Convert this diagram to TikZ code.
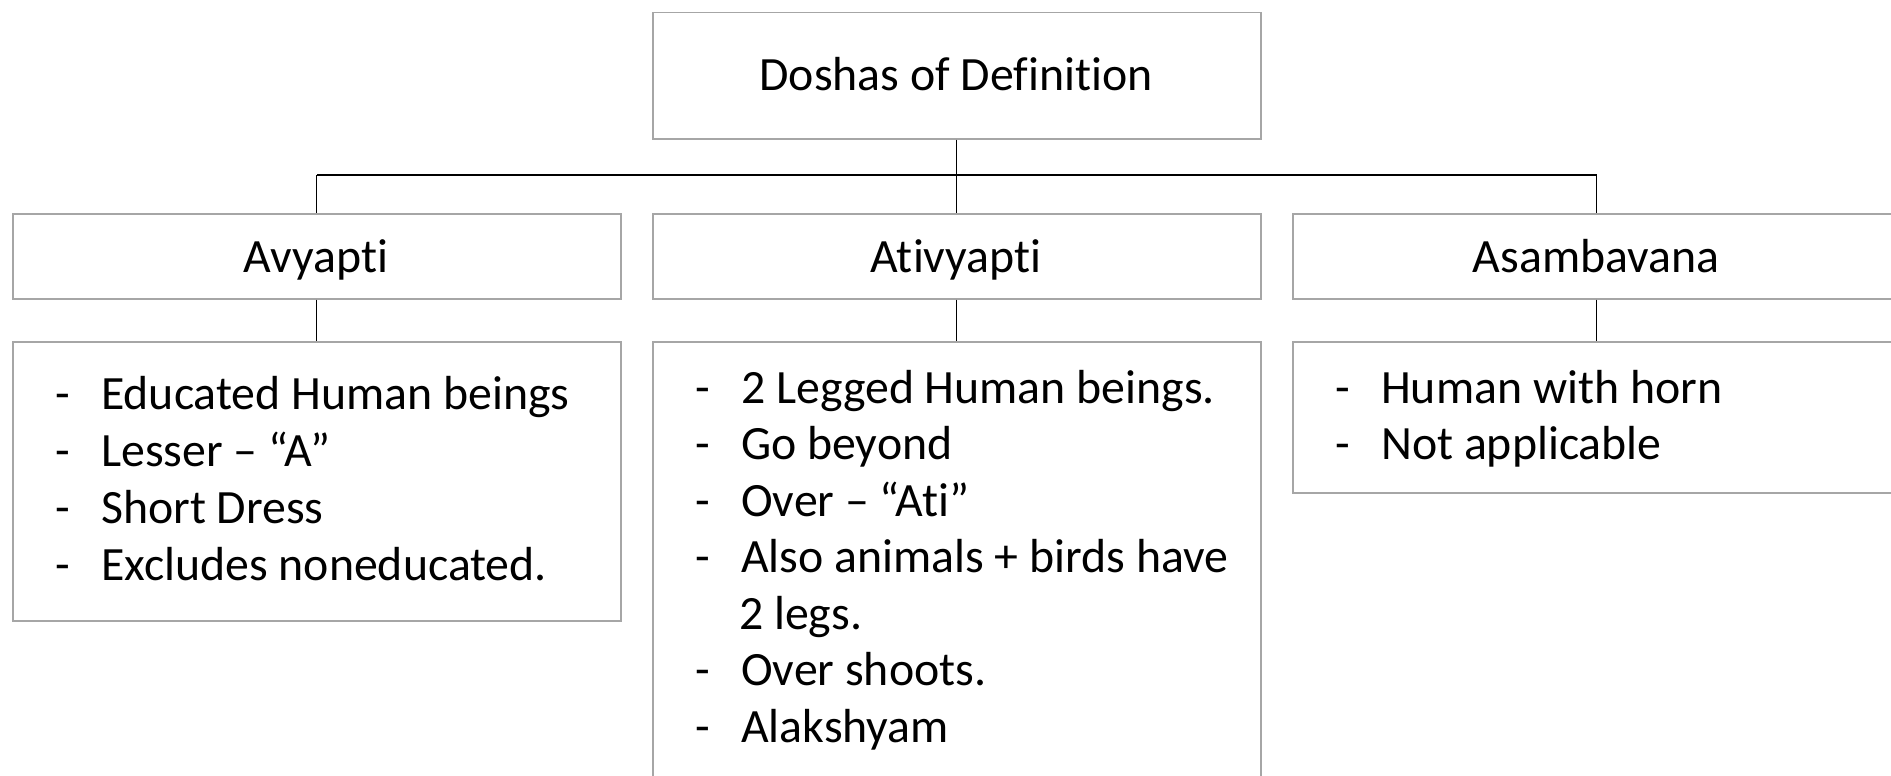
\documentclass[tikz,border=0pt]{standalone}
\usepackage{fontspec}
\setmainfont{Carlito}[Ligatures=NoCommon]
\definecolor{boxgray}{RGB}{166,166,166}
\tikzset{
  box/.style={draw=boxgray, line width=1.5pt, fill=white, anchor=north west,
              inner sep=0pt, minimum width=608},
  link/.style={draw=black, line width=1.3pt},
  buslink/.style={draw=black, line width=2pt},
  title/.style={anchor=base, inner sep=0pt, font=\fontsize{47.8}{57}\selectfont},
  item/.style={anchor=base west, inner sep=0pt, font=\fontsize{47.8}{57}\selectfont},
}
\begin{document}
\begin{tikzpicture}[x=1pt, y=-1pt]
  \useasboundingbox (0,0) rectangle (1891,776);
  \clip (0,0) rectangle (1891,776);

  % boxes
  \node[box, minimum height=126] (root) at (652,12) {};
  \node[box, minimum height=85] (avy) at (12,213) {};
  \node[box, minimum height=85] (ati) at (652,213) {};
  \node[box, minimum height=85] (asa) at (1292,213) {};
  \node[box, minimum height=279] (avyL) at (12,341) {};
  \node[box, minimum height=460] (atiL) at (652,341) {};
  \node[box, minimum height=151] (asaL) at (1292,341) {};

  % connectors
  \coordinate (bus) at (956,175);
  \draw[link] (root.south) -- (root.south |- bus);
  \draw[buslink] (avy.north |- bus) -- (asa.north |- bus);
  \draw[link] (avy.north |- bus) -- (avy.north);
  \draw[link] (ati.north |- bus) -- (ati.north);
  \draw[link] (asa.north |- bus) -- (asa.north);
  \draw[link] (avy.south) -- (avyL.north);
  \draw[link] (ati.south) -- (atiL.north);
  \draw[link] (asa.south) -- (asaL.north);

  % titles
  \node[title] (tRoot) at (956,90) {Doshas of Definition};
  \node[title] (tAvy) at (316,272) {Avyapti};
  \node[title] (tAti) at (956,272) {Ativyapti};
  \node[title] (tAsa) at (1596,272) {Asambavana};

  % Avyapti list
  \foreach \y/\t [count=\i] in {409/Educated Human beings, 466/{Lesser – “A”},
                                523/Short Dress, 580/Excludes noneducated.} {
    \node[item] (avyD\i) at (55,\y) {-};
    \node[item] (avyT\i) at (101,\y) {\t};
  }

  % Ativyapti list
  \foreach \y/\t [count=\i] in {403/2 Legged Human beings., 459/Go beyond,
                                516/{Over – “Ati”}, 572/Also animals + birds have,
                                685/Over shoots., 742/Alakshyam} {
    \node[item] (atiD\i) at (695,\y) {-};
    \node[item] (atiT\i) at (741,\y) {\t};
  }
  \node[item] (atiWrap) at (739,629) {2 legs.};

  % Asambavana list
  \foreach \y/\t [count=\i] in {403/Human with horn, 459/Not applicable} {
    \node[item] (asaD\i) at (1335,\y) {-};
    \node[item] (asaT\i) at (1381,\y) {\t};
  }
\end{tikzpicture}
\end{document}
